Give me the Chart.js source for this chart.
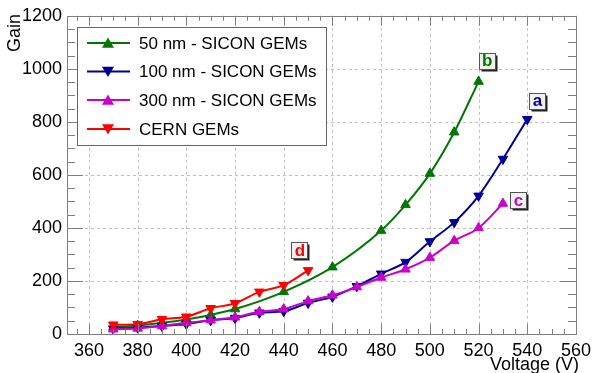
<!DOCTYPE html>
<html>
<head>
<meta charset="utf-8">
<script src="https://cdn.jsdelivr.net/npm/chart.js@4.4.1/dist/chart.umd.min.js"></script>
<style>
  html, body { margin: 0; padding: 0; background: #ffffff; }
  #wrap { width: 597px; height: 373px; }
</style>
</head>
<body>
<div id="wrap"><canvas id="gainChart" width="597" height="373"></canvas></div>
<script>
// Gain vs voltage for SICON and CERN GEMs

// tick labels
const xTicks = [360, 380, 400, 420, 440, 460, 480, 500, 520, 540, 560];
const yTicks = [0, 200, 400, 600, 800, 1000, 1200];

// 50 nm - SICON GEMs
const sicon50Voltage = [370, 380, 390, 400, 410, 420, 440, 460, 480, 490, 500, 510, 520];
const sicon50Gain    = [25, 32, 42, 55, 72, 94, 159, 252, 390, 487, 605, 761, 952];

// 100 nm - SICON GEMs
const sicon100Voltage = [370, 380, 390, 400, 410, 420, 430, 440, 450, 460, 470, 480, 490, 500, 510, 520, 530, 540];
const sicon100Gain    = [20, 24, 30, 38, 52, 60, 80, 86, 117, 140, 180, 227, 271, 349, 421, 521, 660, 810];

// 300 nm - SICON GEMs
const sicon300Voltage = [370, 380, 390, 400, 410, 420, 430, 440, 450, 460, 470, 480, 490, 500, 510, 520, 530];
const sicon300Gain    = [18, 21, 30, 42, 52, 63, 84, 94, 124, 146, 177, 213, 244, 288, 352, 400, 492];

// CERN GEMs
const cernVoltage = [370, 380, 390, 400, 410, 420, 430, 440, 450];
const cernGain    = [35, 37, 56, 65, 97, 116, 159, 184, 240];

// curve labels (placed in data space next to each curve)
const curveTags = [
  { text: 'a', x: 544, y: 880, color: '#000099' },
  { text: 'b', x: 523.3, y: 1031, color: '#007700' },
  { text: 'c', x: 536.2, y: 506, color: '#cc00cc' },
  { text: 'd', x: 446.4, y: 317, color: '#ff0000' }
];

const FONT = '"Liberation Sans", Arial, Helvetica, sans-serif';

function toPoints(xs, ys) {
  return xs.map((x, i) => ({ x: x, y: ys[i] }));
}

function makeSeries(label, xs, ys, color, down, order) {
  return {
    label: label,
    data: toPoints(xs, ys),
    borderColor: color,
    backgroundColor: color,
    borderWidth: 2,
    pointStyle: 'triangle',
    pointRotation: down ? 180 : 0,
    pointRadius: 5.5,
    pointBorderWidth: 1,
    cubicInterpolationMode: 'monotone',
    order: order,
    isDown: down
  };
}

// dashed grid under the curves
const dashedGrid = {
  id: 'dashedGrid',
  beforeDatasetsDraw(chart) {
    const { ctx, chartArea: a, scales } = chart;
    ctx.save();
    ctx.strokeStyle = '#c0c0c0';
    ctx.lineWidth = 1;
    ctx.setLineDash([3, 3]);
    ctx.beginPath();
    xTicks.forEach(v => {
      const px = Math.round(scales.x.getPixelForValue(v)) + 0.5;
      if (px <= a.left + 1 || px >= a.right - 1) return;
      ctx.moveTo(px, a.top); ctx.lineTo(px, a.bottom);
    });
    yTicks.forEach(v => {
      const py = Math.round(scales.y.getPixelForValue(v)) + 0.5;
      if (py <= a.top + 1 || py >= a.bottom - 1) return;
      ctx.moveTo(a.left, py); ctx.lineTo(a.right, py);
    });
    ctx.stroke();
    ctx.restore();
  }
};

// frame + inward ROOT-style ticks on all four sides
const frameTicks = {
  id: 'frameTicks',
  afterDatasetsDraw(chart) {
    const { ctx, chartArea: a, scales } = chart;
    const xs = scales.x, ys = scales.y;
    ctx.save();
    ctx.strokeStyle = '#808080';
    ctx.lineWidth = 1;
    ctx.beginPath();
    for (let v = 355; v <= 560; v += 5) {
      const px = Math.round(xs.getPixelForValue(v)) + 0.5;
      const len = (v % 20 === 0) ? 10 : 5;
      ctx.moveTo(px, a.bottom); ctx.lineTo(px, a.bottom - len);
      ctx.moveTo(px, a.top); ctx.lineTo(px, a.top + len);
    }
    for (let v = 0; v <= 1200; v += 50) {
      const py = Math.round(ys.getPixelForValue(v)) + 0.5;
      const len = (v % 200 === 0) ? 16 : 8;
      ctx.moveTo(a.left, py); ctx.lineTo(a.left + len, py);
      ctx.moveTo(a.right, py); ctx.lineTo(a.right - len, py);
    }
    ctx.stroke();
    ctx.strokeRect(Math.round(a.left) + 0.5, Math.round(a.top) + 0.5,
      Math.round(a.right - a.left), Math.round(a.bottom - a.top));
    ctx.restore();
  }
};

// boxed curve tags a-d, axis titles, legend box
const overlays = {
  id: 'overlays',
  afterDraw(chart) {
    const { ctx, scales } = chart;
    ctx.save();

    // curve tags
    ctx.font = 'bold 17px ' + FONT;
    ctx.textAlign = 'center';
    ctx.textBaseline = 'middle';
    curveTags.forEach(t => {
      const cx = scales.x.getPixelForValue(t.x);
      const cy = scales.y.getPixelForValue(t.y);
      const w = 16, h = 16;
      const x0 = Math.round(cx - w / 2) + 0.5, y0 = Math.round(cy - h / 2) + 0.5;
      ctx.fillStyle = '#222222';
      ctx.fillRect(x0 + 2, y0 + 2, w, h);
      ctx.fillStyle = '#f0f0f0';
      ctx.fillRect(x0, y0, w, h);
      ctx.strokeStyle = '#555555';
      ctx.lineWidth = 1;
      ctx.strokeRect(x0, y0, w, h);
      ctx.fillStyle = t.color;
      ctx.fillText(t.text, cx + 0.5, cy + 1);
    });

    // axis titles
    ctx.fillStyle = '#000000';
    ctx.font = '18px ' + FONT;
    ctx.textAlign = 'right';
    ctx.textBaseline = 'alphabetic';
    ctx.fillText('Voltage (V)', 579, 370);
    ctx.save();
    ctx.translate(20, 14);
    ctx.rotate(-Math.PI / 2);
    ctx.fillText('Gain', 0, 0);
    ctx.restore();

    // legend
    const lx = 77.5, ly = 27.5, lw = 249, lh = 118;
    ctx.fillStyle = '#ffffff';
    ctx.fillRect(lx, ly, lw, lh);
    ctx.strokeStyle = '#666666';
    ctx.lineWidth = 1;
    ctx.strokeRect(lx, ly, lw, lh);
    const rowsY = [43, 71.5, 100, 129];
    const legendOrder = [3, 2, 1, 0].map(o => chart.data.datasets.find(d => d.order === o));
    ctx.font = '17px ' + FONT;
    ctx.textAlign = 'left';
    ctx.textBaseline = 'middle';
    legendOrder.forEach((ds, i) => {
      const y = rowsY[i];
      ctx.strokeStyle = ds.borderColor;
      ctx.lineWidth = 2;
      ctx.beginPath();
      ctx.moveTo(87, y); ctx.lineTo(130, y);
      ctx.stroke();
      ctx.fillStyle = ds.borderColor;
      ctx.beginPath();
      const s = 6;
      if (ds.isDown) {
        ctx.moveTo(108 - s, y - s * 0.8); ctx.lineTo(108 + s, y - s * 0.8); ctx.lineTo(108, y + s * 0.9);
      } else {
        ctx.moveTo(108 - s, y + s * 0.8); ctx.lineTo(108 + s, y + s * 0.8); ctx.lineTo(108, y - s * 0.9);
      }
      ctx.closePath();
      ctx.fill();
      ctx.fillStyle = '#000000';
      ctx.fillText(ds.label, 139, y + 1);
    });
    ctx.restore();
  }
};

new Chart(document.getElementById('gainChart'), {
  type: 'line',
  data: {
    datasets: [
      makeSeries('CERN GEMs', cernVoltage, cernGain, '#ff0000', true, 0),
      makeSeries('300 nm - SICON GEMs', sicon300Voltage, sicon300Gain, '#cc00cc', false, 1),
      makeSeries('100 nm - SICON GEMs', sicon100Voltage, sicon100Gain, '#000099', true, 2),
      makeSeries('50 nm - SICON GEMs', sicon50Voltage, sicon50Gain, '#007700', false, 3)
    ]
  },
  options: {
    responsive: false,
    animation: false,
    layout: { padding: { left: 0, top: 14, right: 18, bottom: 0 } },
    plugins: {
      legend: { display: false },
      tooltip: { enabled: false }
    },
    scales: {
      x: {
        type: 'linear',
        min: 351,
        max: 560,
        afterBuildTicks: s => { s.ticks = xTicks.map(v => ({ value: v })); },
        afterFit: s => { s.height = 39; },
        ticks: {
          color: '#000000',
          padding: 6,
          maxRotation: 0,
          autoSkip: false,
          font: { family: FONT, size: 18 },
          callback: v => String(v)
        },
        grid: { display: false, drawTicks: false },
        border: { display: false }
      },
      y: {
        type: 'linear',
        min: 0,
        max: 1200,
        afterBuildTicks: s => { s.ticks = yTicks.map(v => ({ value: v })); },
        afterFit: s => { s.width = 67; },
        ticks: {
          color: '#000000',
          padding: 5,
          font: { family: FONT, size: 18 },
          callback: v => String(v)
        },
        grid: { display: false, drawTicks: false },
        border: { display: false }
      }
    }
  },
  plugins: [dashedGrid, frameTicks, overlays]
});
</script>
</body>
</html>
